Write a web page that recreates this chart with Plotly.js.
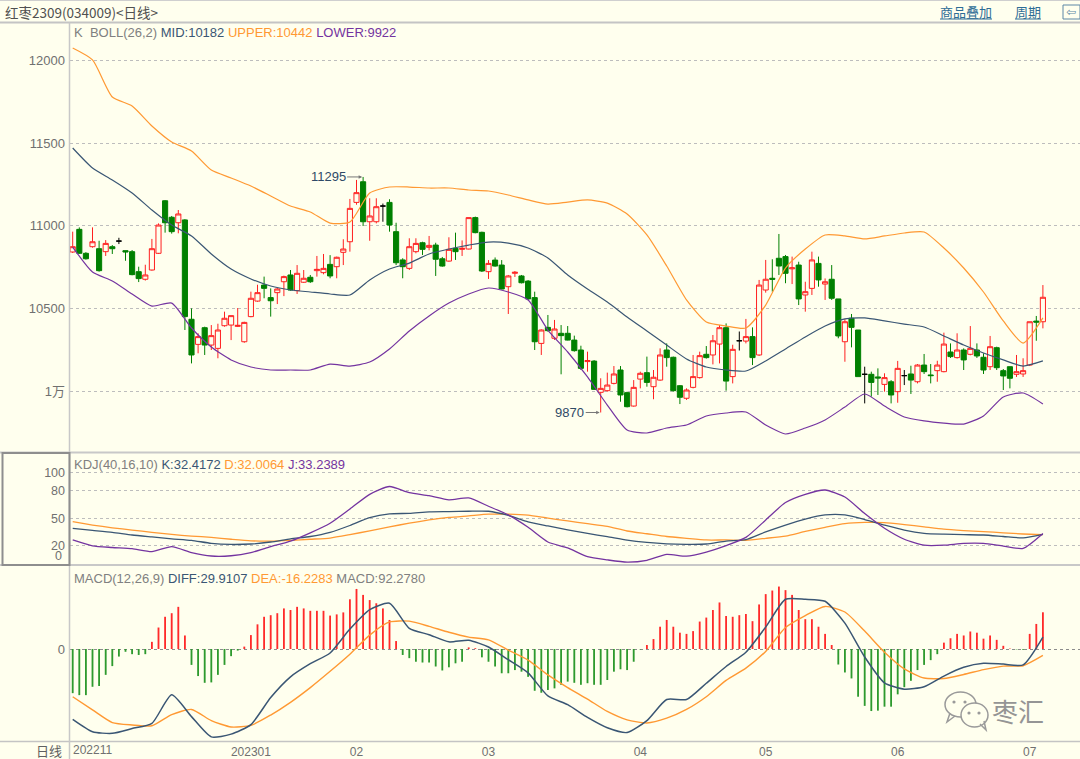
<!DOCTYPE html>
<html>
<head>
<meta charset="utf-8">
<title>红枣2309 日线</title>
<script src="https://cdn.plot.ly/plotly-3.0.1.min.js"></script>
<style>
  html, body { margin: 0; padding: 0; background: #FFFFEE; }
  #chart { width: 1080px; height: 759px; }
</style>
</head>
<body>
<div id="chart"></div>
<script>
// ---- daily bars (index 0 = first session on screen) ----
const opens = [
  10841,10978,10833,10873,10861,10843,10873,10907,10849,10843,
  10722,10676,10732,10833,11151,11051,11018,11035,10434,10282,
  10383,10278,10258,10395,10399,10391,10298,10450,10544,10641,
  10565,10595,10661,10702,10607,10658,10688,10728,10716,10766,
  10752,10839,10903,11141,11266,11024,11024,11119,11141,10964,
  10793,10742,10843,10897,10869,10883,10800,10786,10863,10857,
  10859,11049,10960,10722,10792,10762,10631,10712,10696,10665,
  10565,10288,10385,10319,10349,10349,10308,10248,10178,10181,
  9992,10002,10046,10127,9990,9909,10072,10111,10026,10066,
  10248,10204,10032,9956,10022,10081,10222,10218,10284,10383,
  10087,10304,10302,10329,10218,10611,10682,10803,10813,10739,
  10762,10581,10621,10772,10647,10676,10557,10298,10440,10369,
  10101,10101,10085,10040,10056,9996,10093,10103,10056,10157,
  10097,10123,10117,10236,10202,10248,10222,10248,10204,10147,
  10262,10123,10147,10101,10103,10157,10423,10419];
const highs = [
  10964,10990,10840,10990,10909,10913,10883,10927,10849,10853,
  10752,10764,10920,11014,11155,11059,11095,11040,10500,10349,
  10389,10399,10407,10480,10456,10502,10419,10601,10643,10692,
  10621,10623,10698,10732,10762,10732,10702,10817,10829,10822,
  10813,10918,11162,11277,11295,11166,11166,11134,11160,11018,
  10803,10924,10924,10903,10938,10897,10811,10930,10958,10911,
  11049,11055,10964,10792,10808,10792,10702,10726,10702,10671,
  10601,10373,10460,10430,10399,10393,10335,10274,10238,10187,
  10077,10111,10151,10151,9996,10066,10117,10208,10127,10258,
  10288,10208,10036,10016,10218,10238,10272,10339,10399,10409,
  10280,10360,10436,10385,10672,10793,10797,10950,10823,10813,
  10782,10661,10843,10813,10681,10762,10557,10436,10466,10369,
  10147,10117,10137,10107,10066,10182,10127,10153,10163,10224,
  10163,10183,10353,10288,10349,10258,10393,10288,10228,10333,
  10268,10133,10147,10218,10198,10419,10454,10641];
const lows = [
  10835,10829,10795,10867,10722,10817,10829,10889,10788,10700,
  10659,10668,10728,10829,10958,10952,10954,10369,10167,10228,
  10218,10248,10198,10389,10308,10387,10292,10446,10540,10561,
  10450,10526,10574,10607,10587,10654,10654,10692,10706,10682,
  10682,10762,10843,11127,10998,10909,11014,11024,10964,10762,
  10682,10732,10833,10823,10851,10696,10752,10782,10793,10817,
  10857,10954,10720,10678,10752,10615,10466,10690,10651,10551,
  10248,10218,10359,10309,10101,10306,10238,10127,10117,10006,
  9870,9996,10040,9935,9901,9905,10016,10026,9950,10062,
  10147,9996,9921,9946,10016,10075,10196,10161,10167,10002,
  10046,10245,10288,10157,10212,10595,10601,10702,10652,10647,
  10520,10480,10581,10631,10551,10551,10319,10177,10264,10087,
  9925,9966,9976,9996,9925,9929,10036,9982,10046,10103,
  10046,10056,10113,10200,10196,10127,10216,10200,10103,10127,
  10127,10006,10016,10085,10085,10151,10304,10379];
const closes = [
  10873,10833,10800,10903,10728,10893,10861,10907,10841,10704,
  10680,10702,10861,11004,11018,10964,11071,10450,10218,10329,
  10278,10335,10369,10440,10456,10397,10415,10561,10595,10621,
  10546,10617,10692,10611,10712,10682,10661,10736,10742,10696,
  10809,10859,11105,11200,11024,11059,11115,11119,11004,10776,
  10752,10873,10893,10857,10881,10797,10756,10857,10843,10863,
  11049,10958,10726,10772,10756,10617,10696,10718,10655,10557,
  10298,10369,10365,10375,10335,10308,10244,10137,10184,10010,
  10016,10036,10103,9976,9905,10022,10107,10052,10083,10218,
  10202,10002,9962,10006,10087,10214,10202,10304,10383,10060,
  10252,10304,10329,10202,10641,10676,10676,10756,10712,10745,
  10557,10601,10793,10672,10661,10561,10333,10419,10385,10087,
  10101,10052,10079,10081,9976,10137,10093,10066,10157,10117,
  10093,10157,10284,10208,10248,10188,10258,10212,10127,10268,
  10141,10091,10077,10117,10123,10419,10417,10567];

// MACD(12,26,9) histogram, one bar per session
const macdHist = [
  -111,-116,-116,-95,-93,-65,-43,-19,-7,-13,
  -15,-13,18,54,81,90,106,34,-40,-68,
  -85,-84,-65,-40,-18,-4,6,35,62,81,
  85,90,102,98,106,102,96,96,96,84,
  87,92,125,151,136,123,115,102,73,20,
  -15,-23,-32,-34,-34,-44,-54,-46,-36,-32,
  4,2,-21,-32,-44,-61,-61,-53,-57,-70,
  -105,-110,-103,-99,-90,-82,-85,-90,-86,-90,
  -90,-78,-57,-51,-53,-32,-1,10,25,56,
  73,56,41,38,45,69,79,98,117,83,
  81,85,88,70,112,138,147,157,148,136,
  98,75,75,56,38,10,-39,-59,-74,-120,
  -143,-156,-155,-145,-145,-114,-96,-80,-53,-40,
  -28,-13,16,27,38,34,44,41,26,34,
  23,8,1,-1,-2,38,63,92.278];

// indicator lines, sampled every third session
const lineIdx = [0,3,6,9,12,15,18,21,24,27,30,33,36,39,42,45,48,51,54,57,
  60,63,66,69,72,75,78,81,84,87,90,93,96,99,102,105,108,111,114,117,
  120,123,126,129,132,135,138,141,144,147];
const bollUpper = [12075,12003,11779,11724,11603,11506,11452,11337,11289,11240,
  11180,11119,11083,11016,11022,11198,11234,11234,11228,11228,
  11216,11210,11186,11156,11131,11143,11156,11137,11071,10944,
  10756,10551,10417,10393,10381,10520,10744,10859,10944,10938,
  10920,10938,10956,10962,10865,10744,10599,10424,10290,10442];
const bollMid = [11470,11349,11277,11198,11095,11004,10938,10829,10738,10678,
  10635,10611,10599,10587,10581,10672,10738,10774,10829,10859,
  10883,10901,10895,10865,10805,10702,10617,10538,10448,10363,
  10278,10194,10145,10127,10121,10182,10254,10327,10393,10436,
  10442,10424,10405,10387,10333,10278,10230,10188,10151,10182];
const bollLower = [10871,10720,10666,10587,10514,10532,10381,10266,10188,10145,
  10127,10127,10127,10163,10151,10175,10254,10363,10454,10532,
  10587,10623,10599,10551,10369,10236,10085,9915,9764,9746,
  9776,9794,9849,9867,9873,9794,9740,9776,9825,9903,
  9982,9909,9843,9819,9806,9800,9849,9964,9988,9922];
const kdjK = [38.9,36.7,34.5,31.6,29.5,27.5,25.8,22.5,21.3,21.8,
  24,27.5,30,34.5,42,50.5,54.7,55.2,56.8,57.1,
  57.5,57.5,53,46,41.5,37.3,33.3,29.8,26,23.5,
  22,21.5,21.8,25,26.5,35,42.5,49,53.5,53.5,
  48.5,42.5,37,33.5,32.5,32,31.6,30,28.5,32.4172];
const kdjD = [46.2,42.5,39.5,37,34.5,32.2,30.5,29,27,25.3,
  25,25.8,27,28.3,32,36.2,40.5,44.5,48,50.8,
  52.5,54.3,54.3,53.3,50,47,44,41,36,33,
  30,28,26.2,26.2,25.8,28,30.5,35.5,40,44,
  45.3,45.1,43,40.5,38,36.5,35.3,34,32.7,32.0064];
const kdjJ = [26.2,19.8,18,16.7,13.5,19,12.5,8.7,9,12.5,
  19,25,34,44.5,60,76,84.5,77.8,74.5,70,
  72,63,53.5,40,24,17.5,8,4.5,2,4,
  10.5,8.5,13,20,29,48,67,76,80.7,73,
  55,39,27,20.5,20.5,22.5,22.5,19.5,17,33.2389];
const macdDiff = [-177,-208,-212,-200,-187,-115,-170,-221,-214,-190,
  -122,-70,-37,-10,50,99,115,52,36,18,
  22,5,-27,-60,-118,-140,-172,-198,-210,-180,
  -127,-127,-86,-44,-8,55,125,125,120,65,
  -20,-85,-101,-95,-68,-46,-36,-38,-40,29.9107];
const macdDea = [-120,-153,-185,-191,-193,-165,-152,-180,-196,-192,
  -166,-134,-97,-56,-13,35,68,70,57,42,
  30,23,-3,-28,-65,-97,-126,-157,-178,-186,
  -174,-152,-120,-79,-48,-6,54,84,107,93,
  45,-8,-50,-73,-74,-64,-52,-43,-42,-16.2283];

// time axis: first session of each month
const monthStart = [27, 43, 63, 86, 105, 125, 145];
const monthLabel = ['202301', '02', '03', '04', '05', '06', '07'];
const firstMonthLabel = '202211';

const priceTicks = [10000, 10500, 11000, 11500, 12000];
const priceTickText = ['1万', '10500', '11000', '11500', '12000'];
const kdjTicks = [0, 20, 50, 80, 100];
const kdjTickText = ['', '20', '50', '80', '100'];

// ---- page geometry ----
const W = 1080, H = 759;
const L = 70, T = 22, B = 742;
const px = x => (x - L) / (W - L);
const py = y => (B - y) / (B - T);

const BG = '#FFFFEE';
const RED = '#FF2020', GREEN = '#008000';
const C_MID = '#3A5674', C_UP = '#FF9933', C_LOW = '#7434A0';
const GREY = '#808080';
const FONT = 'Liberation Sans, Noto Sans CJK SC, sans-serif';
const CJK = 'Noto Sans CJK SC, sans-serif';

const idx = opens.map((_, i) => i);
const isDoji = idx.map(i => opens[i] === closes[i]);
const pick = (arr, want) => arr.filter((_, i) => isDoji[i] === want);

const candleCommon = { type: 'candlestick', xaxis: 'x', yaxis: 'y', whiskerwidth: 0, hoverinfo: 'skip' };

const traces = [
  Object.assign({}, candleCommon, {
    x: pick(idx, false), open: pick(opens, false), high: pick(highs, false),
    low: pick(lows, false), close: pick(closes, false),
    increasing: { line: { color: RED, width: 1 }, fillcolor: BG },
    decreasing: { line: { color: GREEN, width: 1 }, fillcolor: GREEN }
  }),
  Object.assign({}, candleCommon, {
    x: pick(idx, true), open: pick(opens, true), high: pick(highs, true),
    low: pick(lows, true), close: pick(closes, true),
    increasing: { line: { color: '#000000', width: 1 }, fillcolor: '#000000' },
    decreasing: { line: { color: '#000000', width: 1 }, fillcolor: '#000000' }
  })
];

function line(y, color, yaxis, width) {
  return { type: 'scatter', mode: 'lines', x: lineIdx, y: y, xaxis: 'x', yaxis: yaxis,
    line: { color: color, width: width || 1.2, shape: 'spline', smoothing: 0.6 }, hoverinfo: 'skip' };
}
traces.push(line(bollUpper, C_UP, 'y'), line(bollMid, C_MID, 'y'), line(bollLower, C_LOW, 'y'));
traces.push(line(kdjD, C_UP, 'y2', 1.3), line(kdjK, C_MID, 'y2', 1.3), line(kdjJ, C_LOW, 'y2', 1.3));
traces.push({
  type: 'bar', x: idx, y: macdHist, xaxis: 'x', yaxis: 'y3', width: 0.28,
  marker: { color: macdHist.map(v => v >= 0 ? '#FF2A2A' : '#2E9A2E'), line: { width: 0 } },
  hoverinfo: 'skip'
});
traces.push(line(macdDea, C_UP, 'y3', 1.4), line(macdDiff, C_MID, 'y3', 1.5));

// ---- axes ----
const priceScale = 6.05;                       // price units per pixel
const priceTop = 10000 + (391 - T) * priceScale;
const priceBot = 10000 - (452 - 391) * priceScale;
const kdjScale = 0.917;                        // pixels per KDJ unit
const macdScale = 2.514;                       // MACD units per pixel

const yCommon = {
  anchor: 'x', side: 'left', showline: false, zeroline: false, ticks: '',
  gridcolor: '#BDBDBD', griddash: 'dot', gridwidth: 1,
  tickfont: { family: FONT, size: 13, color: '#707070' }, ticklabelstandoff: 4, fixedrange: true
};

const layout = {
  width: W, height: H,
  margin: { l: L, r: 0, t: T, b: H - B, pad: 0 },
  paper_bgcolor: BG, plot_bgcolor: BG,
  showlegend: false, hovermode: false, dragmode: false,
  boxgap: 0.12, boxgroupgap: 0.12,
  xaxis: {
    range: [(L - 72.7) / 6.6, (W - 72.7) / 6.6], anchor: 'y3',
    tickvals: monthStart, ticktext: monthLabel, ticks: '', showgrid: false,
    zeroline: false, showline: false, rangeslider: { visible: false },
    tickfont: { family: FONT, size: 12, color: '#707070' }, ticklabelstandoff: 1, fixedrange: true
  },
  yaxis: Object.assign({}, yCommon, {
    domain: [py(452), 1], range: [priceBot, priceTop],
    tickvals: priceTicks, ticktext: priceTickText
  }),
  yaxis2: Object.assign({}, yCommon, {
    domain: [py(564), py(453)], range: [0, (564 - 453) / kdjScale],
    tickvals: kdjTicks, ticktext: kdjTickText, tickfont: { family: FONT, size: 12.5, color: '#707070' }
  }),
  yaxis3: Object.assign({}, yCommon, {
    domain: [0, py(566)], range: [-(B - 649) * macdScale, (649 - 566) * macdScale],
    tickvals: [0], ticktext: ['0'], gridcolor: '#8C8C8C'
  })
};

// ---- frame lines ----
const hLine = (y, color, w) => ({ type: 'line', xref: 'paper', yref: 'paper', layer: 'above',
  x0: px(0), x1: px(W), y0: py(y), y1: py(y), line: { color: color, width: w } });
const shapes = [
  hLine(0.5, '#CFCFCF', 1),
  hLine(22.5, '#C4C4C4', 2),
  hLine(452.5, '#C8C8C8', 2),
  hLine(565, '#C8C8C8', 2),
  hLine(741.5, '#C4C4C4', 1.5),
  { type: 'line', xref: 'paper', yref: 'paper', x0: px(69.5), x1: px(69.5), y0: py(22.5), y1: py(H),
    line: { color: '#C8C8C8', width: 1.5 } },
  { type: 'rect', xref: 'paper', yref: 'paper', x0: px(2.5), x1: px(69.5), y0: py(453), y1: py(565),
    line: { color: '#8E8E8E', width: 2 } },
  // link underlines in the header
  { type: 'line', xref: 'paper', yref: 'paper', x0: px(940), x1: px(992), y0: py(19), y1: py(19),
    line: { color: '#2D6C96', width: 1 } },
  { type: 'line', xref: 'paper', yref: 'paper', x0: px(1015), x1: px(1041), y0: py(19), y1: py(19),
    line: { color: '#2D6C96', width: 1 } },
  { type: 'rect', xref: 'paper', yref: 'paper', x0: px(1063), x1: px(1080), y0: py(5), y1: py(19),
    line: { color: '#5D87A6', width: 1 } }
];

// watermark: two chat bubbles
const wm = '#9A9A9A';
const ell = (x0, y0, x1, y1, fill) => ({ type: 'circle', xref: 'paper', yref: 'paper', layer: 'above',
  x0: px(x0), x1: px(x1), y0: py(y0), y1: py(y1), fillcolor: fill, line: { color: wm, width: 1.5 } });
const dot = (x, y) => ({ type: 'circle', xref: 'paper', yref: 'paper', layer: 'above',
  x0: px(x - 1.6), x1: px(x + 1.6), y0: py(y - 1.6), y1: py(y + 1.6), fillcolor: wm, line: { width: 0 } });
shapes.push(
  ell(945, 692, 976, 717, BG),
  { type: 'path', xref: 'paper', yref: 'paper', layer: 'above',
    path: `M ${px(950)} ${py(713)} L ${px(947)} ${py(722)} L ${px(955)} ${py(716)}`,
    line: { color: wm, width: 1.5 } },
  dot(954, 702), dot(965, 702),
  ell(961, 703, 988, 727, BG),
  { type: 'path', xref: 'paper', yref: 'paper', layer: 'above',
    path: `M ${px(980)} ${py(724)} L ${px(986)} ${py(730)} L ${px(984)} ${py(721)}`,
    line: { color: wm, width: 1.5 } },
  dot(969, 713), dot(979, 713)
);
layout.shapes = shapes;

// ---- texts ----
const span = (color, s) => `<span style="color:${color}">${s}</span>`;
const note = (x, y, text, opts) => Object.assign({
  xref: 'paper', yref: 'paper', x: px(x), y: py(y), xanchor: 'left', yanchor: 'middle',
  text: text, showarrow: false, font: { family: FONT, size: 13, color: GREY }
}, opts || {});
const last = a => a[a.length - 1];

layout.annotations = [
  note(3, 12, '红枣2309(034009)&lt;日线&gt;', { font: { family: CJK, size: 13.5, color: '#505050' } }),
  note(966, 11, '商品叠加', { xanchor: 'center', font: { family: CJK, size: 13, color: '#2D6C96' } }),
  note(1028, 11, '周期', { xanchor: 'center', font: { family: CJK, size: 13, color: '#2D6C96' } }),
  note(1071, 12, '⇦', { xanchor: 'center', font: { family: 'DejaVu Sans', size: 12, color: '#5D87A6' } }),

  note(71.5, 33, 'K\u00a0\u00a0BOLL(26,2) ' + span(C_MID, 'MID:' + last(bollMid)) + ' ' +
    span(C_UP, 'UPPER:' + last(bollUpper)) + ' ' + span(C_LOW, 'LOWER:' + last(bollLower))),
  note(71.5, 464, 'KDJ(40,16,10) ' + span(C_MID, 'K:' + last(kdjK).toFixed(4)) + ' ' +
    span(C_UP, 'D:' + last(kdjD).toFixed(4)) + ' ' + span(C_LOW, 'J:' + last(kdjJ).toFixed(4))),
  note(71.5, 578, 'MACD(12,26,9) ' + span(C_MID, 'DIFF:' + last(macdDiff).toFixed(4)) + ' ' +
    span(C_UP, 'DEA:' + last(macdDea).toFixed(4)) + ' MACD:' + last(macdHist).toFixed(4)),

  note(64, 556, '0', { xanchor: 'right', font: { family: FONT, size: 12.5, color: '#707070' } }),
  note(64, 750, '日线', { xanchor: 'right', font: { family: CJK, size: 13, color: '#606060' } }),
  note(70.5, 750, firstMonthLabel, { font: { family: FONT, size: 12, color: '#707070' } }),

  note(1018, 710, '枣汇', { xanchor: 'center', font: { family: CJK, size: 26, color: '#959595' } })
];

// highest and lowest session marks
const hiIdx = highs.indexOf(Math.max(...highs));
const loIdx = lows.indexOf(Math.min(...lows));
const markFont = { family: FONT, size: 13, color: '#2F4A66' };
layout.annotations.push(
  { xref: 'x', yref: 'y', x: hiIdx, y: highs[hiIdx], text: String(highs[hiIdx]), showarrow: true,
    ax: -35, ay: 0, arrowhead: 2, arrowsize: 0.7, arrowwidth: 1, arrowcolor: '#777', standoff: 1, font: markFont },
  { xref: 'x', yref: 'y', x: loIdx, y: lows[loIdx], text: String(lows[loIdx]), showarrow: true,
    ax: -31, ay: 0, arrowhead: 2, arrowsize: 0.7, arrowwidth: 1, arrowcolor: '#777', standoff: 1, font: markFont }
);

Plotly.newPlot('chart', traces, layout, { staticPlot: true, displayModeBar: false });
</script>
</body>
</html>
